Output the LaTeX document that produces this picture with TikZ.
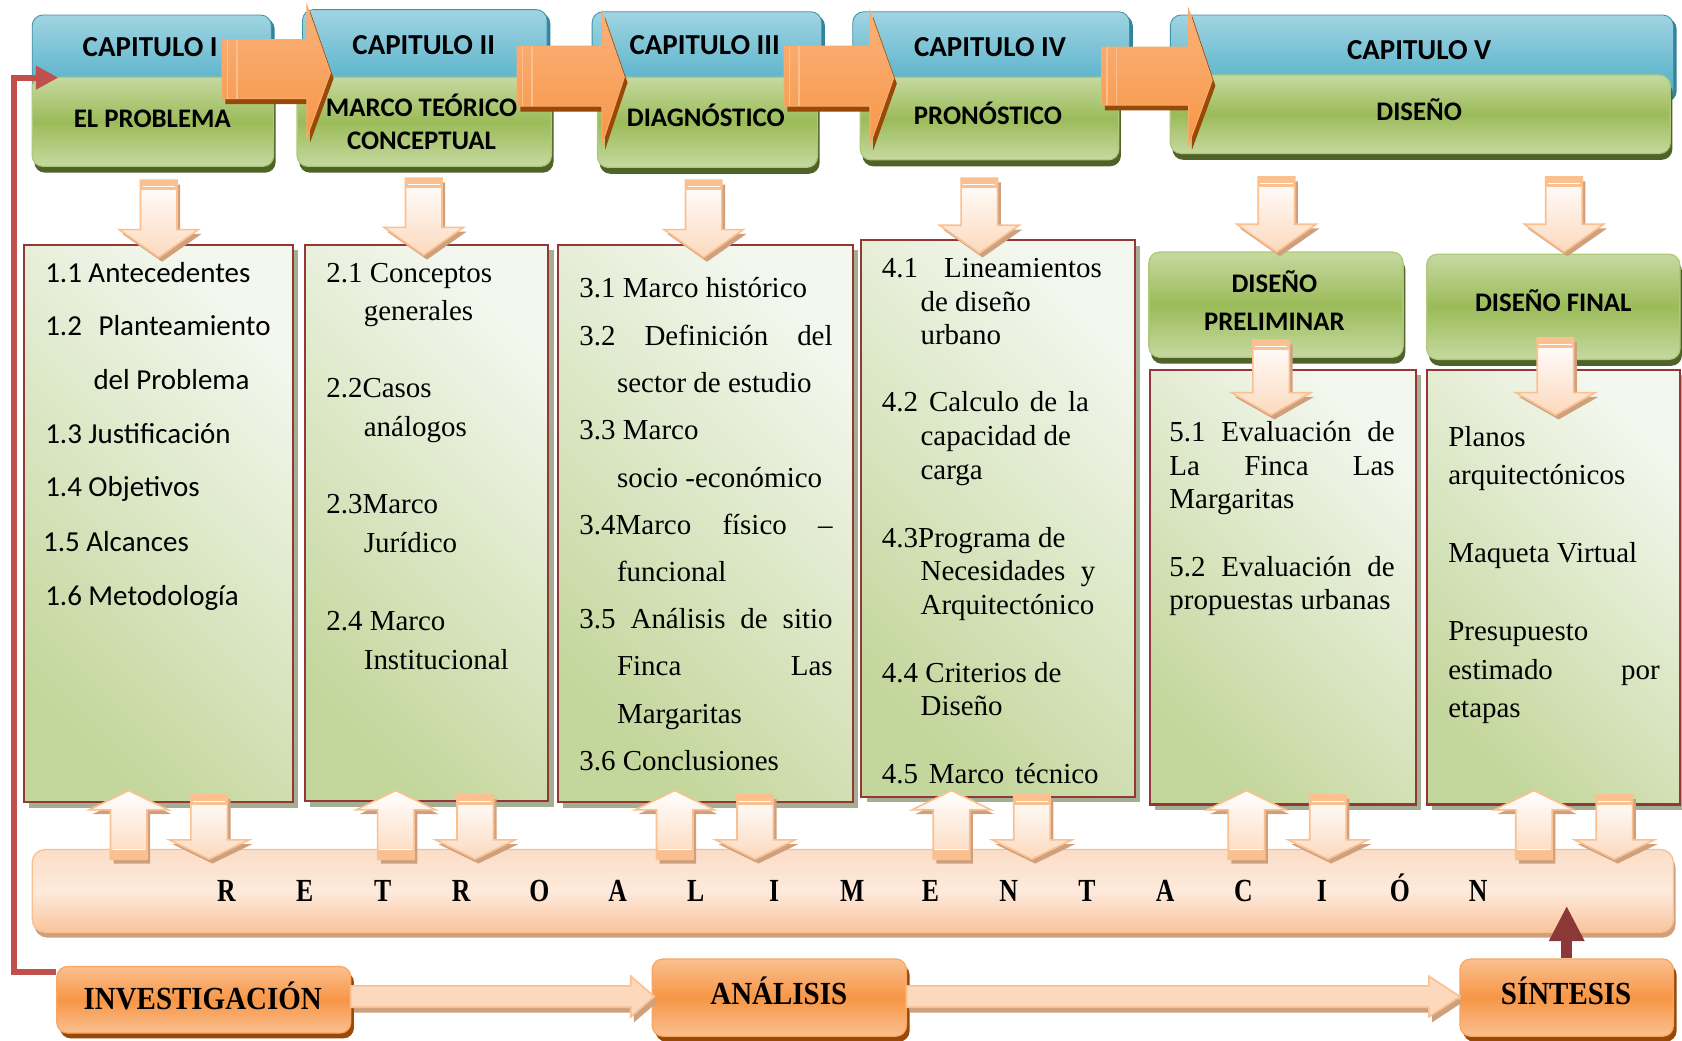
\documentclass[tikz,border=0pt]{standalone}
\usepackage{fontspec}
\usepackage{graphicx}
\setmainfont{Liberation Serif}
\newfontfamily\calibri{Carlito}
\usetikzlibrary{shadows,arrows.meta,calc}

\definecolor{bluetop}{HTML}{A0D4E2}
\definecolor{bluebot}{HTML}{4BACC6}
\definecolor{blueshadow}{HTML}{31849B}
\definecolor{grnlight}{HTML}{C6D9A0}
\definecolor{grnmid}{HTML}{9BBB59}
\definecolor{grnshadow}{HTML}{4F6228}
\definecolor{boxborder}{HTML}{953735}
\definecolor{boxgreen}{HTML}{C3D69B}
\definecolor{boxlight}{HTML}{F3F7EE}
\definecolor{boxshadow}{HTML}{A3AE92}
\definecolor{orng}{HTML}{F79646}
\definecolor{orngl}{HTML}{FAB27C}
\definecolor{orngshadow}{HTML}{984807}
\definecolor{peach}{HTML}{FAC090}
\definecolor{peachl}{HTML}{FCD9BD}
\definecolor{ptan}{HTML}{CFA07E}
\definecolor{barTop}{HTML}{FBDDC7}
\definecolor{barMid}{HTML}{FDEADC}
\definecolor{barBot}{HTML}{F9C49B}
\definecolor{loopred}{HTML}{C0504D}
\definecolor{sinred}{HTML}{8C3836}

% pale block arrows
\def\dnpath#1#2#3#4{(#1-17,#2) -- (#1+17,#2) -- (#1+17,#3-#4) -- (#1+37,#3-#4) -- (#1,#3) -- (#1-37,#3-#4) -- (#1-17,#3-#4) -- cycle}
\def\uppath#1#2#3#4{(#1-17,#2) -- (#1+17,#2) -- (#1+17,#3+#4) -- (#1+37,#3+#4) -- (#1,#3) -- (#1-37,#3+#4) -- (#1-17,#3+#4) -- cycle}
\newcommand\pdown[4]{%
  \fill[ptan, shift={(3,4)}] \dnpath{#1}{#2}{#3}{#4};
  \shadedraw[top color=white, bottom color=peachl, draw=peach, line width=1.5pt] \dnpath{#1}{#2}{#3}{#4};
  \fill[peach] (#1-17,#2) rectangle (#1+17,#2+9);
  \draw[white, line width=1.5pt] (#1-15,#2+6) -- (#1+15,#2+6);
}
\newcommand\pup[4]{%
  \fill[ptan, shift={(3,4)}] \uppath{#1}{#2}{#3}{#4};
  \shadedraw[top color=white, bottom color=peachl, draw=peach, line width=1.5pt] \uppath{#1}{#2}{#3}{#4};
  \fill[peach] (#1-17,#2-9) rectangle (#1+17,#2);
  \draw[white, line width=1.5pt] (#1-15,#2-9) -- (#1+15,#2-9);
}
% orange chapter arrows: x0, xb, xt, bodytop, bodybot, headtop, headbot, tipy
\def\chpath#1#2#3#4#5#6#7#8{(#1,#4) -- (#2,#4) -- (#2,#6) -- (#3,#8) -- (#2,#7) -- (#2,#5) -- (#1,#5) -- cycle}
\newcommand\charr[8]{%
  \fill[orngshadow, shift={(3,5)}] \chpath{#1}{#2}{#3}{#4}{#5}{#6}{#7}{#8};
  \shadedraw[top color=orngl, bottom color=orng, draw=orng!80!white, line width=1pt] \chpath{#1}{#2}{#3}{#4}{#5}{#6}{#7}{#8};
  \draw[peach, line width=1.3pt] (#1+5,#4) -- (#1+5,#5) (#1+14,#4) -- (#1+14,#5);
}
% horizontal pale arrows: x0, xb, xt, yc
\def\rtpath#1#2#3#4{(#1,#4-10) -- (#2,#4-10) -- (#2,#4-19) -- (#3,#4) -- (#2,#4+19) -- (#2,#4+10) -- (#1,#4+10) -- cycle}
\newcommand\prt[4]{%
  \fill[ptan, shift={(3,5)}] \rtpath{#1}{#2}{#3}{#4};
  \shadedraw[top color=peachl, middle color=white, bottom color=peachl, draw=peach, line width=1.5pt] \rtpath{#1}{#2}{#3}{#4};
}

\tikzset{
  bluepart/.style={draw=bluebot!85!black, line width=0.8pt, rounded corners=10pt, inner sep=0,
    top color=bluetop, bottom color=bluebot,
    drop shadow={shadow xshift=3pt, shadow yshift=-3pt, fill=blueshadow, opacity=1}},
  greenpart/.style={draw=grnmid!80!white, line width=1.2pt, rounded corners=10pt, inner sep=0,
    top color=grnlight, bottom color=grnlight, middle color=grnmid,
    drop shadow={shadow xshift=2pt, shadow yshift=-6pt, fill=grnshadow, opacity=1}},
  cbox/.style={draw=boxborder, line width=2pt, inner sep=0,
    top color=boxlight, bottom color=boxgreen, shading angle=-45,
    drop shadow={shadow xshift=5pt, shadow yshift=-5pt, fill=boxshadow, opacity=1}},
  barbox/.style={draw=peach, line width=1.2pt, rounded corners=12pt, inner sep=0,
    top color=barTop, bottom color=barBot, middle color=barMid,
    drop shadow={shadow xshift=2pt, shadow yshift=-5pt, fill=ptan, opacity=1}},
  obox/.style={draw=orng!85!white, line width=1.2pt, rounded corners=10pt, inner sep=0,
    top color=peach, bottom color=peach, middle color=orng,
    drop shadow={shadow xshift=3pt, shadow yshift=-5pt, fill=orngshadow, opacity=1}},
  chtext/.style={font=\calibri\bfseries\fontsize{25}{30}\selectfont, inner sep=0, anchor=base},
  chhead/.style={font=\calibri\bfseries\fontsize{27}{30}\selectfont, inner sep=0, anchor=base},
  sertext/.style={font=\fontsize{27}{30}\selectfont, inner sep=0, anchor=base west},
  santext/.style={font=\calibri\fontsize{27}{30}\selectfont, inner sep=0, anchor=base west},
  bigtext/.style={font=\bfseries\fontsize{30}{32}\selectfont, inner sep=0, anchor=base},
}

\begin{document}
\begin{tikzpicture}[x=1pt, y=-1pt]
\useasboundingbox (0,0) rectangle (1568,970);
\fill[white] (0,0) rectangle (1568,970);

% chapter boxes
\node[bluepart, minimum width=223, minimum height=78] (c1b) at (141.5,53) {};
\node[greenpart, minimum width=225, minimum height=83] (c1g) at (142.5,113.5) {};
\node[bluepart, minimum width=228, minimum height=83] (c2b) at (396,50.5) {};
\node[greenpart, minimum width=237, minimum height=83] (c2g) at (395.5,113.5) {};
\node[bluepart, minimum width=214, minimum height=81] (c3b) at (659,51.5) {};
\node[greenpart, minimum width=205, minimum height=84] (c3g) at (659.5,114) {};
\node[bluepart, minimum width=258, minimum height=81] (c4b) at (924,51.5) {};
\node[greenpart, minimum width=241, minimum height=77] (c4g) at (922.5,110.5) {};
\node[bluepart, minimum width=469, minimum height=78] (c5b) at (1325.5,53) {};
\node[greenpart, minimum width=466, minimum height=73] (c5g) at (1324,106.5) {};

\node[chhead] (h1) at (140,53) {CAPITULO I};
\node[chtext] (s1) at (142,119) {EL PROBLEMA};
\node[chhead] (h2) at (395,51) {CAPITULO II};
\node[chtext] (s2a) at (393,109) {MARCO TEÓRICO};
\node[chtext] (s2b) at (393,139) {CONCEPTUAL};
\node[chhead] (h3) at (657,51) {CAPITULO III};
\node[chtext] (s3) at (658,118) {DIAGNÓSTICO};
\node[chhead] (h4) at (923,53) {CAPITULO IV};
\node[chtext] (s4) at (921,116) {PRONÓSTICO};
\node[chhead] (h5) at (1323,55) {CAPITULO V};
\node[chtext] (s5) at (1323,112) {DISEÑO};

% orange chapter arrows
\charr{207}{286}{308}{37}{92}{5}{128}{68}
\charr{482}{561}{582}{43}{99}{11}{135}{72}
\charr{731}{811}{833}{43}{99}{11}{135}{73}
\charr{1027}{1108}{1130}{44}{98}{9}{135}{75}

% content boxes
\node[cbox, minimum width=251, minimum height=520] (b1) at (147.5,488) {};
\node[cbox, minimum width=227, minimum height=519] (b2) at (397.5,487.5) {};
\node[cbox, minimum width=275, minimum height=520] (b3) at (657.5,488) {};
\node[cbox, minimum width=255, minimum height=519] (b4) at (930.5,483.5) {};
\node[cbox, minimum width=248, minimum height=405] (b5) at (1196,547.5) {};
\node[cbox, minimum width=236, minimum height=405] (b6) at (1448,547.5) {};
\node[greenpart, minimum width=237, minimum height=98] (dp) at (1189.5,284) {};
\node[greenpart, minimum width=236, minimum height=98] (df) at (1448,286) {};
\node[chtext] (dpa) at (1188,273) {DISEÑO};
\node[chtext] (dpb) at (1188,308) {PRELIMINAR};
\node[chtext] (dfa) at (1448,290) {DISEÑO FINAL};

% feedback bar and process boxes
\node[barbox, minimum width=1530, minimum height=77] (bar) at (795,830.5) {};
\node[obox, minimum width=274, minimum height=62] (inv) at (190,932) {};
\node[obox, minimum width=237, minimum height=72] (ana) at (726.5,930) {};
\node[obox, minimum width=199, minimum height=72] (sin) at (1460.5,930) {};
\node[bigtext] (invt) at (189,941) {\scalebox{0.9}[1]{INVESTIGACIÓN}};
\node[bigtext] (anat) at (726,936) {\scalebox{0.9}[1]{ANÁLISIS}};
\node[bigtext] (sint) at (1460,936) {\scalebox{0.9}[1]{SÍNTESIS}};
\foreach [count=\k] \c in {R,E,T,R,O,A,L,I,M,E,N,T,A,C,I,Ó,N}
  \node[bigtext] (r\k) at ({211+72.94*(\k-1)},840) {\scalebox{0.8}[1]{\c}};

% content text
\foreach [count=\k] \xx/\yy/\lbl in {42/255/{1.1 Antecedentes}, 42/305/{\makebox[210pt][s]{1.2 Planteamiento}}, 87/355/{del Problema}, 42/405/{1.3 Justificación}, 42/455/{1.4 Objetivos}, 40/506/{1.5 Alcances}, 42/556/{1.6 Metodología}}
  \node[santext] (t1-\k) at (\xx,\yy+8) {\lbl};
\foreach [count=\k] \xx/\yy/\lbl in {304/255/{2.1 Conceptos}, 339/291/{generales}, 304/363/{2.2Casos}, 339/399/{análogos}, 304/471/{2.3Marco}, 339/507/{Jurídico}, 304/580/{2.4 Marco}, 339/616/{Institucional}}
  \node[sertext] (t2-\k) at (\xx,\yy+8) {\lbl};
\foreach [count=\k] \xx/\yy/\lbl in {540/269/{3.1 Marco histórico}, 540/314/{\makebox[236pt][s]{3.2 Definición del}}, 575/358/{sector de estudio}, 540/402/{3.3 Marco}, 575/446/{socio -económico}, 540/490/{\makebox[236pt][s]{3.4Marco físico –}}, 575/534/{funcional}, 540/578/{\makebox[236pt][s]{3.5 Análisis de sitio}}, 575/622/{\makebox[201pt][s]{Finca Las}}, 575/666/{Margaritas}, 540/710/{3.6 Conclusiones}}
  \node[sertext] (t3-\k) at (\xx,\yy+8) {\lbl};
\foreach [count=\k] \xx/\yy/\lbl in {822/251/{\makebox[205pt][s]{4.1 Lineamientos}}, 858/282/{de diseño}, 858/313/{urbano}, 822/376/{\makebox[193pt][s]{4.2 Calculo de la}}, 858/407/{capacidad de}, 858/439/{carga}, 822/502/{4.3Programa de}, 858/533/{\makebox[163pt][s]{Necesidades y}}, 858/565/{Arquitectónico}, 822/628/{4.4 Criterios de}, 858/659/{Diseño}, 822/722/{\makebox[202pt][s]{4.5 Marco técnico}}}
  \node[sertext] (t4-\k) at (\xx,\yy+8) {\lbl};
\foreach [count=\k] \xx/\yy/\lbl in {1090/404/{\makebox[210pt][s]{5.1 Evaluación de}}, 1090/435/{\makebox[210pt][s]{La Finca Las}}, 1090/466/{Margaritas}, 1090/529/{\makebox[210pt][s]{5.2 Evaluación de}}, 1090/560/{propuestas urbanas}}
  \node[sertext] (t5-\k) at (\xx,\yy+8) {\lbl};
\foreach [count=\k] \xx/\yy/\lbl in {1350/408/{Planos}, 1350/444/{arquitectónicos}, 1350/516/{Maqueta Virtual}, 1350/589/{Presupuesto}, 1350/625/{\makebox[197pt][s]{estimado por}}, 1350/661/{etapas}}
  \node[sertext] (t6-\k) at (\xx,\yy+8) {\lbl};

% pale down arrows from chapters
\pdown{148}{168}{240}{26}
\pdown{395}{166}{238}{26}
\pdown{656}{168}{240}{26}
\pdown{913}{166}{236}{26}
\pdown{1190}{165}{235}{26}
\pdown{1458}{165}{235}{26}
\pdown{1185}{317}{387}{21}
\pdown{1450}{315}{387}{21}

% pale up/down pairs to the feedback bar
\foreach \u/\d in {120/195, 369/443, 629/704, 887/962, 1162/1238, 1430/1505}{
  \pup{\u}{801}{737}{18}
  \pdown{\d}{741}{801}{18}
}

% process arrows
\prt{327}{588}{610}{929}
\prt{845}{1332}{1361}{929}

% loop and synthesis arrows
\draw[loopred, line width=5.5pt, line join=miter, -{Triangle[length=21pt,width=21pt]}]
  ($(inv.north west)+(0,6)$) -- ++(-39,0) |- ($(c1g.north west)+(25,1)$);
\draw[sinred, line width=10pt, -{Triangle[length=33pt,width=31pt]}]
  (sin.north) -- ++(0,-49);
\end{tikzpicture}
\end{document}
